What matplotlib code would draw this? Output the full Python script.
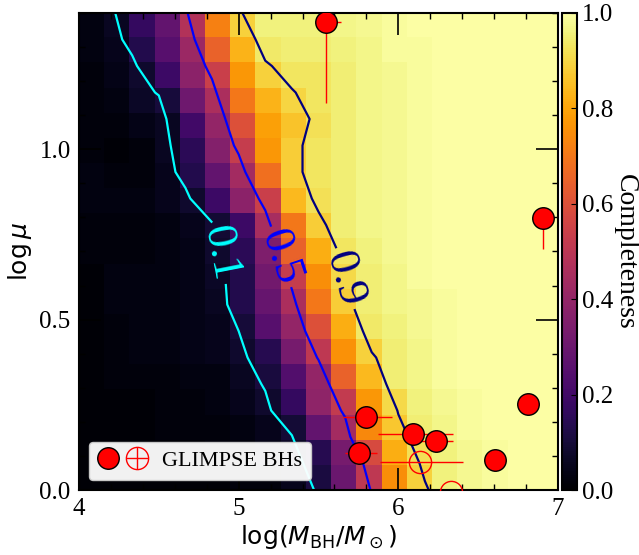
import numpy as np
import matplotlib
matplotlib.use('Agg')
import matplotlib.pyplot as plt
from matplotlib.ticker import MultipleLocator
from matplotlib.legend_handler import HandlerTuple

plt.rcParams['font.family'] = 'serif'
plt.rcParams['font.serif'] = ['Liberation Serif', 'DejaVu Serif']
plt.rcParams['mathtext.fontset'] = 'dejavusans'

# ---------------- data ----------------
logm_range = [4.0, 7.0]
logmu_range = [0.0, 1.4]

# completeness grid, rows from log mu = 0 (bottom) to 1.4 (top), columns log M = 4 -> 7
completeness = np.array([
    [0.01, 0.01, 0.01, 0.01, 0.01, 0.01, 0.02, 0.02, 0.05, 0.11, 0.30, 0.51, 0.75, 0.89, 0.96, 0.98, 0.99, 1.00, 1.00],
    [0.01, 0.01, 0.01, 0.01, 0.01, 0.02, 0.02, 0.04, 0.07, 0.14, 0.33, 0.58, 0.82, 0.92, 0.96, 0.98, 0.99, 1.00, 1.00],
    [0.01, 0.01, 0.01, 0.02, 0.02, 0.02, 0.03, 0.05, 0.095, 0.28, 0.44, 0.74, 0.87, 0.95, 0.97, 0.99, 1.00, 1.00, 1.00],
    [0.01, 0.01, 0.01, 0.02, 0.02, 0.03, 0.05, 0.08, 0.17, 0.39, 0.52, 0.77, 0.905, 0.96, 0.98, 0.99, 1.00, 1.00, 1.00],
    [0.01, 0.02, 0.02, 0.02, 0.03, 0.03, 0.06, 0.107, 0.24, 0.40, 0.65, 0.84, 0.95, 0.97, 0.99, 1.00, 1.00, 1.00, 1.00],
    [0.01, 0.02, 0.03, 0.03, 0.04, 0.05, 0.08, 0.14, 0.33, 0.51, 0.76, 0.89, 0.95, 0.97, 0.99, 1.00, 1.00, 1.00, 1.00],
    [0.01, 0.02, 0.03, 0.03, 0.04, 0.05, 0.10, 0.25, 0.40, 0.60, 0.82, 0.94, 0.96, 0.98, 0.99, 1.00, 1.00, 1.00, 1.00],
    [0.01, 0.03, 0.03, 0.03, 0.04, 0.06, 0.13, 0.29, 0.46, 0.70, 0.88, 0.95, 0.97, 0.98, 0.99, 1.00, 1.00, 1.00, 1.00],
    [0.01, 0.03, 0.03, 0.03, 0.04, 0.07, 0.13, 0.32, 0.53, 0.75, 0.905, 0.95, 0.97, 0.99, 1.00, 1.00, 1.00, 1.00, 1.00],
    [0.02, 0.02, 0.02, 0.03, 0.04, 0.08, 0.15, 0.35, 0.65, 0.82, 0.93, 0.96, 0.98, 0.99, 1.00, 1.00, 1.00, 1.00, 1.00],
    [0.02, 0.02, 0.02, 0.03, 0.05, 0.09, 0.19, 0.45, 0.70, 0.88, 0.95, 0.97, 0.98, 0.99, 1.00, 1.00, 1.00, 1.00, 1.00],
    [0.03, 0.03, 0.03, 0.05, 0.08, 0.19, 0.38, 0.54, 0.84, 0.92, 0.95, 0.97, 0.98, 0.99, 1.00, 1.00, 1.00, 1.00, 1.00],
    [0.03, 0.02, 0.02, 0.05, 0.13, 0.28, 0.44, 0.68, 0.88, 0.93, 0.95, 0.97, 0.98, 0.99, 1.00, 1.00, 1.00, 1.00, 1.00],
    [0.02, 0.01, 0.02, 0.06, 0.15, 0.36, 0.53, 0.77, 0.88, 0.93, 0.95, 0.97, 0.98, 0.99, 1.00, 1.00, 1.00, 1.00, 1.00],
    [0.02, 0.02, 0.04, 0.06, 0.20, 0.40, 0.60, 0.79, 0.86, 0.92, 0.95, 0.97, 0.98, 0.99, 1.00, 1.00, 1.00, 1.00, 1.00],
    [0.02, 0.03, 0.07, 0.105, 0.31, 0.46, 0.70, 0.83, 0.895, 0.93, 0.95, 0.97, 0.98, 0.99, 1.00, 1.00, 1.00, 1.00, 1.00],
    [0.02, 0.04, 0.08, 0.19, 0.38, 0.54, 0.77, 0.89, 0.93, 0.93, 0.95, 0.97, 0.98, 0.99, 1.00, 1.00, 1.00, 1.00, 1.00],
    [0.03, 0.05, 0.13, 0.25, 0.42, 0.65, 0.83, 0.94, 0.95, 0.95, 0.96, 0.97, 0.99, 0.99, 1.00, 1.00, 1.00, 1.00, 1.00],
    [0.03, 0.06, 0.17, 0.28, 0.48, 0.72, 0.89, 0.96, 0.96, 0.96, 0.97, 0.98, 0.99, 1.00, 1.00, 1.00, 1.00, 1.00, 1.00],
])

contour_levels = [0.1, 0.5, 0.9]
contour_colors = ['cyan', 'blue', 'navy']
contour_label_pos = [(4.92, 0.70), (5.30, 0.69), (5.67, 0.62)]

# GLIMPSE BHs (filled)
det_logm = [5.544, 6.906, 6.81, 6.605, 5.795, 5.751, 6.095, 6.238]
det_logmu = [1.374, 0.797, 0.253, 0.088, 0.215, 0.109, 0.164, 0.145]
det_xerr_lo = [0.05, 0.0, 0.0, 0.0, 0.143, 0.088, 0.22, 0.107]
det_xerr_hi = [0.094, 0.0, 0.0, 0.0, 0.165, 0.115, 0.245, 0.107]
det_yerr_lo = [0.237, 0.09, 0.0, 0.0, 0.0, 0.0, 0.0, 0.0]
det_yerr_hi = [0.237, 0.02, 0.0, 0.0, 0.0, 0.0, 0.0, 0.0]

# GLIMPSE BHs (open)
open_logm = [6.134, 6.33]
open_logmu = [0.082, -0.005]
open_xerr_lo = [0.251, 0.0]
open_xerr_hi = [0.272, 0.0]
open_yerr = [0.0, 0.0]

legend_label = 'GLIMPSE BHs'
cbar_ticks = [0.0, 0.2, 0.4, 0.6, 0.8, 1.0]

# ---------------- figure ----------------
fig = plt.figure(figsize=(6.39, 5.55), dpi=100)
ax = fig.add_axes([0.1236, 0.1171, 0.7496, 0.8595])
cax = fig.add_axes([0.8795, 0.1171, 0.0235, 0.8595])

im = ax.imshow(completeness, origin='lower', aspect='auto', cmap='inferno',
               vmin=0, vmax=1, interpolation='nearest',
               extent=[logm_range[0], logm_range[1], logmu_range[0], logmu_range[1]])

nrow, ncol = completeness.shape
cx = np.linspace(logm_range[0], logm_range[1], ncol)
cy = np.linspace(logmu_range[0], logmu_range[1], nrow)
cs = ax.contour(cx, cy, completeness, levels=contour_levels,
                colors=contour_colors, linewidths=1.6, zorder=2)
ax.clabel(cs, fmt='%.1f', fontsize=32, inline=True, inline_spacing=4,
          manual=contour_label_pos)

eb1 = ax.errorbar(det_logm, det_logmu,
                  xerr=[det_xerr_lo, det_xerr_hi], yerr=[det_yerr_lo, det_yerr_hi],
                  fmt='o', ms=15.5, mfc='red', mec='black', mew=1.0,
                  ecolor='red', elinewidth=1.0, capsize=0, zorder=4)
eb2 = ax.errorbar(open_logm, open_logmu,
                  xerr=[open_xerr_lo, open_xerr_hi], yerr=[open_yerr, open_yerr],
                  fmt='o', ms=16, mfc='none', mec='red', mew=1.0,
                  ecolor='red', elinewidth=1.0, capsize=0, zorder=4)

ax.set_xlim(logm_range)
ax.set_ylim(logmu_range)
ax.xaxis.set_major_locator(MultipleLocator(1.0))
ax.xaxis.set_minor_locator(MultipleLocator(0.2))
ax.yaxis.set_major_locator(MultipleLocator(0.5))
ax.yaxis.set_minor_locator(MultipleLocator(0.1))
ax.tick_params(which='both', direction='in', top=True, right=True, labelsize=18)
ax.tick_params(which='major', length=16, width=1.2, pad=6)
ax.tick_params(which='minor', length=4, width=1.0)
for sp in ax.spines.values():
    sp.set_linewidth(1.5)

ax.set_xlabel(r'$\log(M_{\rm BH}/M_\odot)$', fontsize=18, labelpad=2)
ax.set_ylabel(r'$\log\mu$', fontsize=18, labelpad=4)

leg = ax.legend([(eb1, eb2)], [legend_label],
                handler_map={tuple: HandlerTuple(ndivide=None)},
                loc='lower left', fontsize=16, handlelength=2.2,
                borderaxespad=0.45, handletextpad=0.7,
                framealpha=0.95, facecolor='white', edgecolor='0.8', fancybox=True)

cb = fig.colorbar(im, cax=cax, ticks=cbar_ticks)
cb.ax.tick_params(labelsize=18, direction='in', length=4)
cb.outline.set_linewidth(1.5)
cb.set_label('Completeness', fontsize=20, rotation=270, va='center', ha='center')
cb.ax.yaxis.set_label_coords(4.2, 0.5)

fig.savefig('out.png', dpi=100)
